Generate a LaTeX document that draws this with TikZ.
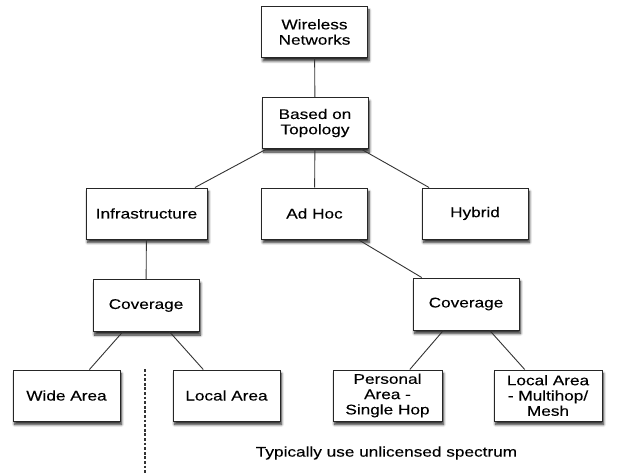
\documentclass[tikz,border=0pt]{standalone}
\usepackage{fontspec}
\setmainfont[FakeStretch=1.23,FakeBold=0.15]{Liberation Sans}
\usetikzlibrary{shadows.blur}
\begin{document}
\begin{tikzpicture}[x=1pt,y=-1pt,
  box/.style={draw=black!85, line width=1pt, fill=white, align=center,
    minimum width=106pt, minimum height=51pt, inner sep=1pt,
    font=\fontsize{14}{15.3}\selectfont,
    blur shadow={shadow xshift=1.5pt, shadow yshift=-3.5pt, shadow blur steps=6, shadow blur radius=2.5pt, shadow opacity=85}},
  link/.style={draw=black!80, line width=0.9pt}]
\useasboundingbox (0,0) rectangle (620,473);
\node[box] (W) at (314.5,32) {Wireless\\Networks};
\node[box] (B) at (315,123) {Based on\\Topology};
\node[box, minimum width=121pt] (I) at (146.5,213.5) {Infrastructure};
\node[box] (A) at (314.5,213.5) {Ad Hoc};
\node[box] (H) at (475,213.5) {Hybrid};
\node[box, minimum height=52pt] (C1) at (146,305.5) {Coverage};
\node[box, minimum height=52pt] (C2) at (466,304) {Coverage};
\node[box, minimum width=107pt] (WA) at (66.5,395.5) {Wide Area};
\node[box, minimum width=107pt] (LA) at (226.5,395.5) {Local Area};
\node[box, minimum width=109pt] (PA) at (387.5,395.5) {Personal\\Area -\\Single Hop};
\node[box, minimum width=108pt] (MA) at (548,395.5) {Local Area\\- Multihop/\\Mesh};
\node[font=\fontsize{14}{15.3}\selectfont, inner sep=0pt] (T) at (386.5,453) {Typically use unlicensed spectrum};
\coordinate (d1) at (145,369);
\coordinate (d2) at (145,473);
\draw[link] (W) -- (B);
\draw[link] (B) -- (I);
\draw[link] (B) -- (A);
\draw[link] (B) -- (H);
\draw[link] (I) -- (C1);
\draw[link] (A) -- (C2);
\draw[link] (C1) -- (WA);
\draw[link] (C1) -- (LA);
\draw[link] (C2) -- (PA);
\draw[link] (C2) -- (MA);
\draw[draw=black!80, line width=1.2pt, dash pattern=on 2.8pt off 1.8pt] (d1) -- (d2);
\end{tikzpicture}
\end{document}
